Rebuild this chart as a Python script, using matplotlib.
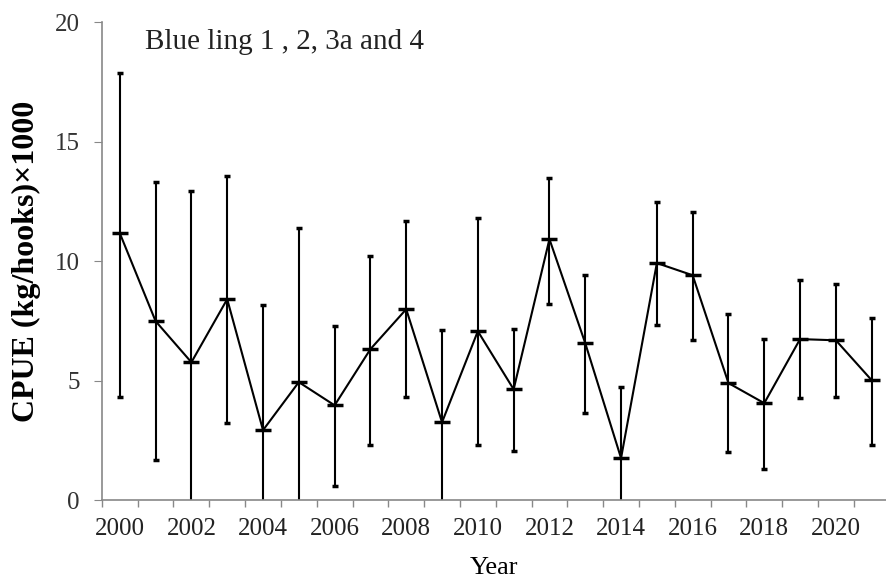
import numpy as np
import matplotlib.pyplot as plt

# CPUE of blue ling
years = list(range(2000, 2022))
cpue = [11.17, 7.49, 5.77, 8.41, 2.93, 4.94, 3.97, 6.32, 7.99, 3.26, 7.07,
        4.64, 10.92, 6.57, 1.76, 9.92, 9.41, 4.90, 4.06, 6.74, 6.69, 5.02]
upper = [17.87, 13.30, 12.93, 13.56, 8.16, 11.38, 7.28, 10.21, 11.67, 7.11, 11.80,
         7.15, 13.47, 9.41, 4.73, 12.47, 12.05, 7.78, 6.74, 9.20, 9.04, 7.62]
lower = [4.31, 1.67, -1.39, 3.22, -2.30, -1.50, 0.59, 2.30, 4.31, -0.60, 2.30,
         2.05, 8.20, 3.64, -1.20, 7.32, 6.69, 2.01, 1.30, 4.27, 4.31, 2.30]

plt.rcParams['font.family'] = ['Liberation Serif', 'DejaVu Serif']

x = np.arange(len(years))
cpue = np.array(cpue)
err = [cpue - np.array(lower), np.array(upper) - cpue]

fig = plt.figure(figsize=(8.86, 5.81), dpi=100)
ax = fig.add_axes([0.115, 0.139, 0.885, 0.823])

ax.errorbar(x, cpue, yerr=err, color='black', lw=1.5, elinewidth=1.5,
            capsize=2.5, capthick=2, marker='_', markersize=11, mew=2.5)

ax.set_xlim(-0.5, 21.4)
ax.set_ylim(0, 20)
ax.set_yticks([0, 5, 10, 15, 20])
ax.set_xticks(x[::2])
ax.set_xticklabels([str(y) for y in years[::2]])
ax.set_xticks(np.arange(-0.5, 21.5, 1.0), minor=True)
ax.tick_params(axis='x', which='major', length=0, labelsize=18, pad=13,
               labelcolor='#222222')
ax.tick_params(axis='x', which='minor', length=5, color='#888888', width=1)
ax.tick_params(axis='y', length=6, color='#888888', labelsize=18, pad=10,
               labelcolor='#333333')

for s in ['top', 'right']:
    ax.spines[s].set_visible(False)
for s in ['left', 'bottom']:
    ax.spines[s].set_color('#888888')
    ax.spines[s].set_linewidth(1.2)

ax.set_ylabel('CPUE (kg/hooks)×1000', fontsize=23, fontweight='bold', labelpad=10)
ax.set_xlabel('Year', fontsize=19, labelpad=12)
ax.text(0.7, 19.15, 'Blue ling 1 , 2, 3a and 4', fontsize=21, va='center',
        color='#222222')

fig.savefig('out.png', dpi=100)
